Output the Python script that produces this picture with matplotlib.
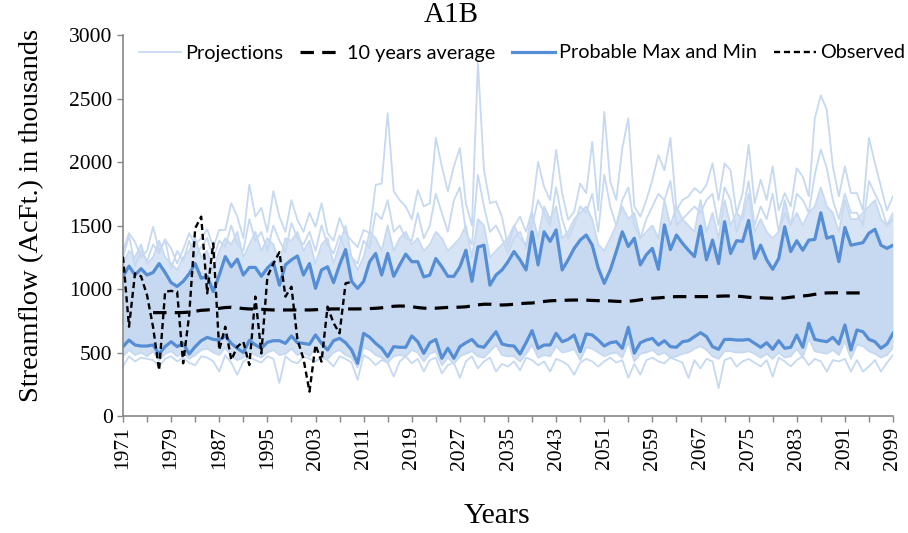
import matplotlib
matplotlib.use("Agg")
import matplotlib.pyplot as plt
import numpy as np

# ---------------- data (thousand AcFt) ----------------
start_year = 1971

max_vals = [
    1100, 1180, 1110, 1160, 1110, 1130, 1200, 1130, 1050, 1020,
    1060, 1120, 1200, 1085, 1100, 980, 1110, 1255, 1175, 1235,
    1110, 1170, 1170, 1100, 1165, 1210, 1030, 1190, 1230, 1260,
    1110, 1200, 1005, 1150, 1175, 1050, 1190, 1310, 1060, 1005,
    1060, 1215, 1280, 1110, 1280, 1100, 1190, 1275, 1215, 1215,
    1095, 1110, 1240, 1175, 1100, 1100, 1175, 1305, 1060, 1330,
    1345, 1030, 1110, 1150, 1215, 1295, 1230, 1150, 1450, 1190,
    1450, 1375, 1465, 1150, 1230, 1320, 1385, 1425, 1345, 1165,
    1045, 1150, 1295, 1450, 1335, 1400, 1190, 1270, 1320, 1155,
    1505, 1310, 1425, 1360, 1305, 1255, 1495, 1230, 1385, 1200,
    1530, 1280, 1380, 1375, 1540, 1240, 1345, 1230, 1155, 1240,
    1490, 1295, 1380, 1305, 1385, 1390, 1600, 1400, 1415, 1215,
    1485, 1345, 1355, 1365, 1440, 1470, 1345, 1320, 1345,
]

min_vals = [
    546, 598, 559, 551, 551, 559, 488, 546, 585, 546,
    572, 488, 546, 593, 619, 603, 598, 630, 572, 533,
    500, 595, 560, 533, 580, 593, 593, 572, 630, 577,
    572, 564, 638, 572, 520, 593, 611, 577, 520, 415,
    651, 620, 572, 533, 467, 546, 541, 541, 630, 585,
    493, 577, 603, 454, 533, 454, 546, 577, 603, 551,
    541, 603, 664, 567, 555, 551, 488, 577, 672, 533,
    559, 559, 651, 585, 603, 638, 507, 646, 638, 598,
    551, 577, 585, 533, 698, 495, 577, 598, 611, 559,
    593, 546, 541, 585, 593, 625, 656, 625, 546, 525,
    603, 603, 598, 598, 603, 572, 541, 577, 525, 593,
    533, 541, 638, 541, 730, 603, 593, 585, 619, 567,
    717, 520, 677, 664, 603, 585, 533, 567, 651,
]

# projection members
proj_hi = [
    1300, 1440, 1370, 1250, 1300, 1490, 1300, 1390, 1320, 1200,
    1310, 1440, 1350, 1400, 1470, 1330, 1465, 1465, 1675, 1570,
    1400, 1820, 1570, 1640, 1450, 1770, 1570, 1450, 1700, 1545,
    1450, 1600, 1490, 1675, 1440, 1380, 1560, 1440, 1380, 1330,
    1465, 1440, 1820, 1830, 2385, 1770, 1700, 1650, 1550, 1780,
    1650, 1675, 2190, 1965, 1770, 1965, 2110, 1675, 1500, 2780,
    1940, 1675, 1690, 1570, 1330, 1490, 1570, 1450, 1620, 2000,
    1805, 1700, 2095, 1755, 1545, 1610, 1830, 1755, 2160, 1620,
    2395, 1845, 1700, 2110, 2345, 1650, 1570, 1700, 1860, 2055,
    1935, 2190, 1620, 1700, 1730, 1795, 1755, 1820, 1990, 1700,
    1990, 1935, 1595, 1755, 2135, 1675, 1860, 1700, 1965, 1620,
    1755, 1650, 1950, 1885, 1730, 2345, 2525, 2410, 1965, 1730,
    1965, 1755, 1755, 1620, 2190, 1990, 1805, 1620, 1730,
]

proj_mid = [
    1250, 1420, 1180, 1300, 1220, 1350, 1280, 1390, 1160, 1300,
    1220, 1380, 1250, 1330, 1400, 1240, 1380, 1330, 1500, 1350,
    1300, 1550, 1380, 1450, 1300, 1500, 1380, 1290, 1520, 1400,
    1350, 1450, 1300, 1500, 1350, 1280, 1420, 1300, 1250, 1200,
    1380, 1320, 1600, 1550, 1700, 1450, 1500, 1400, 1380, 1600,
    1400, 1500, 1750, 1600, 1450, 1700, 1800, 1450, 1350, 1900,
    1650, 1450, 1500, 1400, 1280, 1400, 1450, 1320, 1500, 1700,
    1600, 1500, 1800, 1550, 1400, 1500, 1650, 1600, 1750, 1450,
    1900, 1650, 1500, 1700, 1800, 1500, 1400, 1550, 1650, 1750,
    1700, 1850, 1500, 1550, 1600, 1650, 1600, 1700, 1750, 1500,
    1800, 1700, 1450, 1600, 1850, 1500, 1650, 1550, 1750, 1450,
    1600, 1500, 1750, 1700, 1600, 1900, 2100, 1950, 1700, 1550,
    1750, 1600, 1600, 1500, 1850, 1750, 1650, 1500, 1550,
]

proj_up2 = [
    1200, 1300, 1250, 1350, 1200, 1250, 1380, 1250, 1200, 1150,
    1250, 1300, 1400, 1250, 1300, 1150, 1300, 1400, 1350, 1450,
    1250, 1350, 1450, 1300, 1400, 1350, 1200, 1400, 1380, 1450,
    1300, 1380, 1200, 1350, 1400, 1200, 1350, 1500, 1250, 1150,
    1250, 1450, 1400, 1300, 1500, 1300, 1400, 1450, 1350, 1400,
    1300, 1350, 1450, 1400, 1300, 1350, 1400, 1500, 1250, 1550,
    1500, 1250, 1300, 1350, 1400, 1500, 1400, 1350, 1600, 1400,
    1650, 1550, 1650, 1400, 1450, 1550, 1600, 1650, 1550, 1350,
    1300, 1400, 1500, 1650, 1550, 1600, 1400, 1450, 1500, 1400,
    1700, 1500, 1650, 1550, 1500, 1450, 1700, 1450, 1600, 1400,
    1700, 1500, 1600, 1550, 1750, 1450, 1550, 1450, 1400, 1450,
    1700, 1500, 1600, 1500, 1600, 1650, 1800, 1650, 1600, 1450,
    1700, 1550, 1550, 1600, 1650, 1700, 1550, 1500, 1600,
]

proj_dn2 = [
    470, 520, 480, 500, 470, 510, 440, 490, 510, 470,
    500, 450, 480, 520, 530, 500, 480, 540, 470, 440,
    460, 510, 480, 460, 500, 520, 480, 490, 530, 480,
    500, 470, 540, 480, 450, 500, 520, 480, 460, 380,
    540, 520, 480, 460, 420, 470, 480, 470, 520, 500,
    430, 490, 510, 400, 460, 410, 470, 490, 510, 470,
    460, 510, 560, 480, 470, 470, 430, 490, 560, 460,
    480, 470, 550, 500, 510, 530, 440, 540, 530, 500,
    470, 490, 500, 460, 580, 430, 490, 500, 520, 480,
    500, 460, 470, 490, 500, 530, 550, 520, 470, 450,
    510, 510, 500, 500, 510, 490, 460, 490, 450, 500,
    460, 470, 530, 460, 610, 510, 500, 490, 520, 480,
    590, 450, 560, 550, 510, 490, 460, 480, 540,
]

proj_lo = [
    390, 470, 430, 460, 450, 440, 390, 450, 470, 430,
    460, 420, 400, 470, 460, 430, 350, 480, 420, 325,
    430, 460, 440, 420, 470, 450, 260, 470, 430, 415,
    470, 450, 430, 460, 440, 390, 470, 450, 420, 285,
    480, 450, 400, 440, 420, 310, 430, 470, 415, 450,
    350, 440, 460, 335, 400, 420, 300, 430, 470, 375,
    430, 460, 350, 410, 390, 430, 360, 460, 440, 400,
    430, 350, 450, 430, 400, 325, 420, 450, 430, 390,
    430, 460, 420, 440, 300, 410, 325, 440, 460, 430,
    415, 460, 440, 420, 300, 440, 375, 450, 430, 220,
    440, 460, 390, 430, 450, 420, 390, 440, 310, 460,
    430, 390, 440, 470, 400, 450, 430, 350, 440, 430,
    450, 350, 440, 350, 390, 440, 350, 420, 480,
]

avg_start = 1976
avg_vals = [
    814, 814, 814, 814, 814, 815, 818, 825, 832, 835,
    840, 848, 854, 856, 852, 846, 843, 842, 840, 837,
    835, 835, 835, 835, 835, 835, 835, 837, 840, 842,
    843, 843, 843, 843, 843, 844, 846, 848, 852, 858,
    864, 866, 865, 860, 854, 849, 848, 849, 852, 855,
    856, 857, 860, 867, 875, 880, 880, 876, 874, 876,
    880, 885, 888, 890, 895, 902, 907, 909, 910, 912,
    913, 913, 912, 910, 908, 908, 906, 903, 901, 903,
    908, 915, 922, 927, 930, 934, 938, 940, 940, 940,
    940, 940, 940, 941, 943, 945, 945, 944, 940, 935,
    932, 931, 929, 927, 927, 929, 935, 941, 945, 950,
    958, 965, 969, 970, 970, 969, 969, 969, 968,
]

obs_start = 1971
obs_vals = [
    1254, 703, 1123, 1100, 950, 700, 360, 979, 985, 979,
    415, 794, 1478, 1570, 966, 1360, 520, 703, 441, 546,
    585, 401, 940, 493, 1097, 1200, 1290, 940, 1018, 600,
    450, 192, 559, 428, 861, 732, 651, 1045, 1055,
]

years = np.arange(start_year, start_year + len(max_vals))
avg_years = np.arange(avg_start, avg_start + len(avg_vals))
obs_years = np.arange(obs_start, obs_start + len(obs_vals))

y_ticks = [0, 500, 1000, 1500, 2000, 2500, 3000]
x_label_years = list(range(1971, 2100, 8))

# ---------------- styling ----------------
PROJ = "#c6d9f1"
MAXMIN = "#558ed5"
SPINE = "#868686"
SERIF = ["Liberation Serif", "DejaVu Serif"]
SANS = ["Lato", "DejaVu Sans"]

fig = plt.figure(figsize=(9.08, 5.33), dpi=100)
ax = fig.add_axes([123 / 908, 1 - 416 / 533, (893 - 123) / 908, (416 - 35) / 533])

n = len(years)
mx = np.array(max_vals[:n], float)
mn = np.array(min_vals[:n], float)
up2 = np.array(proj_up2[:n], float)
dn2 = np.array(proj_dn2[:n], float)

# dense ensemble core
ax.fill_between(years, mn, mx, color=PROJ, lw=0, zorder=1)
ax.fill_between(years, mx, np.maximum(mx, up2), color=PROJ, alpha=0.7, lw=0, zorder=1)
ax.fill_between(years, np.minimum(mn, dn2), mn, color=PROJ, alpha=0.8, lw=0, zorder=1)
for series in (proj_hi, proj_mid, proj_up2, proj_dn2, proj_lo):
    ax.plot(years, series[:n], color=PROJ, lw=1.3, zorder=2)
proj_handle, = ax.plot([], [], color=PROJ, lw=1.3)

ax.plot(years, mx, color=MAXMIN, lw=2.3, zorder=4)
mm_handle, = ax.plot(years, mn, color=MAXMIN, lw=2.3, zorder=4)

avg_handle, = ax.plot(avg_years, avg_vals, color="black", lw=2.3,
                      linestyle=(0, (4.2, 2.6)), zorder=5)
obs_handle, = ax.plot(obs_years, obs_vals, color="black", lw=1.7,
                      linestyle=(0, (2.6, 1.6)), zorder=6)

ax.set_xlim(1971, 2099)
ax.set_ylim(0, 3000)
ax.set_yticks(y_ticks)
ax.set_yticklabels([str(v) for v in y_ticks], fontfamily=SERIF, fontsize=15.5)
ax.set_xticks(x_label_years)
ax.set_xticklabels([str(v) for v in x_label_years], rotation=90,
                   fontfamily=SERIF, fontsize=15.5)
ax.set_xticks(list(range(1971, 2100, 4)), minor=True)
ax.tick_params(axis="both", which="both", direction="out", length=4.5,
               width=1, color=SPINE, pad=3)
for side in ("top", "right"):
    ax.spines[side].set_visible(False)
for side in ("left", "bottom"):
    ax.spines[side].set_color(SPINE)
    ax.spines[side].set_linewidth(1.2)

fig.text(451 / 908, 1 - 15 / 533, "A1B", ha="center", va="center",
         fontfamily=SERIF, fontsize=21)
fig.text(497 / 908, 1 - 516 / 533, "Years", ha="center", va="center",
         fontfamily=SERIF, fontsize=21.5)
fig.text(32 / 908, 1 - 215 / 533, "Streamflow (AcFt.) in thousands",
         ha="center", va="center", rotation=90, fontfamily=SERIF, fontsize=20.5)

fig.legend([proj_handle, avg_handle, mm_handle, obs_handle],
           ["Projections", "10 years average", "Probable Max and Min", "Observed"],
           loc="center", bbox_to_anchor=(522 / 908, 1 - 53 / 533), ncol=4,
           frameon=False, prop={"family": SANS, "size": 14.3},
           handlelength=2.15, handletextpad=0.2, columnspacing=0.85,
           borderaxespad=0, borderpad=0)

fig.savefig("out.png", dpi=100)
